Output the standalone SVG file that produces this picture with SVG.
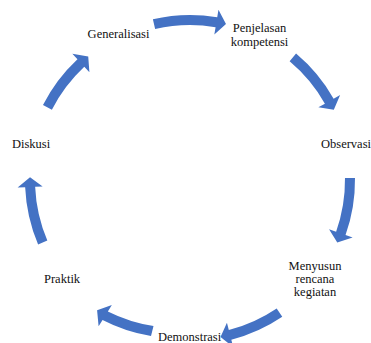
<svg xmlns="http://www.w3.org/2000/svg" width="371" height="343" viewBox="0 0 371 343">
<style>
.arr{fill:#4472C4;stroke:none}
text{font-family:'Liberation Serif','Times New Roman','DejaVu Serif',serif;font-size:12.5px;fill:#111}
.c{text-anchor:middle}
</style>
<rect width="371" height="343" fill="#fff"/>
<g id="connectors">
<path class="arr" d="M152.88,19.23 A165,165 0 0 1 217.23,17.26 L218.47,9.86 L225.99,24.10 L214.34,34.52 L215.58,27.13 A155,155 0 0 0 155.13,28.97 Z"/>
<path class="arr" d="M296.06,53.60 A165,165 0 0 1 333.61,98.75 L340.14,95.06 L333.81,109.86 L318.38,107.37 L324.91,103.67 A155,155 0 0 0 289.63,61.26 Z"/>
<path class="arr" d="M354.99,177.98 A165,165 0 0 1 345.54,235.08 L352.61,237.58 L337.28,242.52 L329.04,229.24 L336.11,231.74 A155,155 0 0 0 344.99,178.11 Z"/>
<path class="arr" d="M282.27,316.79 A165,165 0 0 1 231.31,339.74 L233.19,347.01 L220.53,337.06 L226.93,322.80 L228.81,330.06 A155,155 0 0 0 276.67,308.50 Z"/>
<path class="arr" d="M151,336 A165,165 0 0 1 102.56,319.93 L98.59,326.29 L97.09,310.26 L111.84,305.09 L107.86,311.45 A155,155 0 0 0 153.5,326 Z"/>
<path class="arr" d="M38.12,244.47 A165,165 0 0 1 25.16,187.20 L17.66,187.52 L30.02,177.21 L42.64,186.43 L35.15,186.76 A155,155 0 0 0 47.32,240.56 Z"/>
<path class="arr" d="M42.98,105.09 A165,165 0 0 1 77.47,59.33 L72.35,53.84 L88.23,56.54 L89.40,72.13 L84.29,66.64 A155,155 0 0 0 51.89,109.63 Z"/>
</g>
<g id="generalisasi"><text class="c" x="118.5" y="38.3" font-family="Liberation Serif, serif">Generalisasi</text></g>
<g id="penjelasan"><text class="c" x="259.5" y="32" font-family="Liberation Serif, serif">Penjelasan</text><text class="c" x="259.5" y="45.5" font-family="Liberation Serif, serif">kompetensi</text></g>
<g id="observasi"><text x="321" y="147.5" font-family="Liberation Serif, serif">Observasi</text></g>
<g id="menyusun"><text class="c" x="315" y="269.5" font-family="Liberation Serif, serif">Menyusun</text><text class="c" x="315" y="282.5" font-family="Liberation Serif, serif">rencana</text><text class="c" x="315" y="295.5" font-family="Liberation Serif, serif">kegiatan</text></g>
<g id="demonstrasi"><text x="158" y="341" font-family="Liberation Serif, serif">Demonstrasi</text></g>
<g id="praktik"><text x="44" y="283.3" font-family="Liberation Serif, serif">Praktik</text></g>
<g id="diskusi"><text x="12" y="147.5" font-family="Liberation Serif, serif">Diskusi</text></g>
</svg>
